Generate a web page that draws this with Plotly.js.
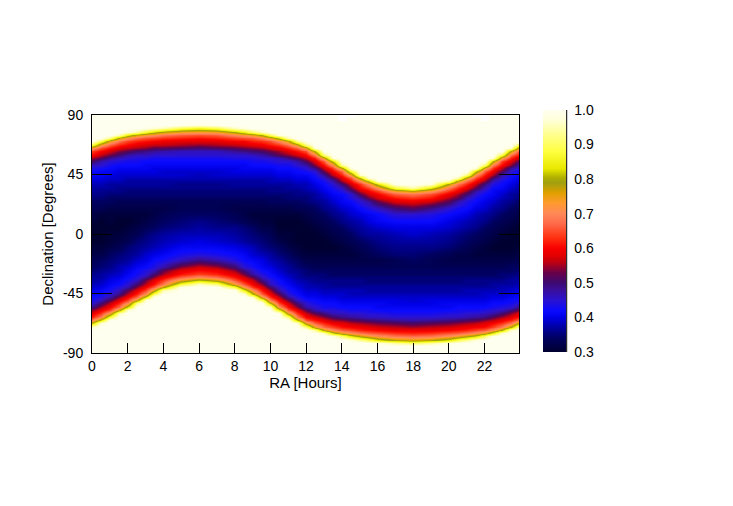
<!DOCTYPE html>
<html>
<head>
<meta charset="utf-8">
<script src="https://cdn.plot.ly/plotly-3.0.1.min.js"></script>
<style>html,body{margin:0;padding:0;background:#fff;}#chart{width:733px;height:506px;}</style>
</head>
<body>
<div id="chart"></div>
<script>
// RA columns (hours): half-hour steps where the band edges are steep
var raHours = [0,0.5,1,1.5,2,2.5,3,3.5,4,5,6,7,8,8.5,9,9.5,10,10.5,11,11.5,12,12.5,13,13.5,14,14.5,15,15.5,16,17,18,19,20,20.5,21,21.5,22,22.5,23,23.5,24];
// Declination rows (degrees): 2.5 deg steps where the bands are, 5 deg steps in the middle
var decDegrees = [-90,-87.5,-85,-82.5,-80,-77.5,-75,-72.5,-70,-67.5,-65,-62.5,-60,-57.5,-55,-52.5,-50,-47.5,-45,-42.5,-40,-37.5,-35,-32.5,-30,-27.5,-25,
  -20,-15,-10,-5,0,5,10,15,20,
  25,27.5,30,32.5,35,37.5,40,42.5,45,47.5,50,52.5,55,57.5,60,62.5,65,67.5,70,72.5,75,77.5,80,82.5,85,87.5,90];

// value x100, one column per RA entry, from Dec -90 up to Dec +90
var zColumns = [
  /* 0 */   [100,100,100,100,100,100,100,100,97,80,68,62,58,54,49,45,43,42,41,40,39,38,37,37,36,35,34, 33,32,31,30,30,30,31,32,33, 34,35,36,37,37,38,39,40,41,42,44,46,51,55,60,64,72,88,100,100,100,100,100,100,100,100,100],
  /* 0.5 */ [100,100,100,100,100,100,100,100,100,98,82,69,63,59,55,50,46,44,42,41,40,39,38,37,37,36,35, 34,32,31,30,30,30,30,31,33, 34,35,36,36,37,38,39,40,41,41,43,45,47,52,56,60,65,73,89,100,100,100,100,100,100,100,100],
  /* 1 */   [100,100,100,100,100,100,100,100,100,100,100,88,73,64,60,56,52,47,45,43,42,41,40,39,38,37,36, 35,34,32,31,31,30,31,31,32, 34,34,35,36,37,37,38,39,40,41,42,43,45,48,53,57,61,66,75,92,100,100,100,100,100,100,100],
  /* 1.5 */ [100,100,100,100,100,100,100,100,100,100,100,100,94,77,67,62,58,54,49,46,44,42,41,40,39,38,38, 36,35,33,32,31,30,30,31,32, 33,34,35,36,36,37,38,39,39,40,41,42,44,46,50,54,58,62,68,78,95,100,100,100,100,100,100],
  /* 2 */   [100,100,100,100,100,100,100,100,100,100,100,100,100,98,83,71,64,60,56,52,47,45,43,42,41,40,39, 37,36,35,33,32,31,30,31,32, 33,34,35,35,36,37,37,38,39,40,41,42,43,45,47,52,56,60,64,71,83,98,100,100,100,100,100],
  /* 2.5 */ [100,100,100,100,100,100,100,100,100,100,100,100,100,100,100,93,76,67,62,58,54,50,46,44,43,42,41, 39,37,36,35,33,32,31,31,32, 33,34,35,35,36,37,37,38,39,40,41,42,43,44,46,50,55,58,62,67,77,94,100,100,100,100,100],
  /* 3 */   [100,100,100,100,100,100,100,100,100,100,100,100,100,100,100,100,98,83,71,64,60,56,53,48,45,44,42, 40,39,37,36,35,33,32,31,32, 33,34,35,35,36,37,37,38,39,40,41,41,42,44,46,49,54,57,61,65,73,87,99,100,100,100,100],
  /* 3.5 */ [100,100,100,100,100,100,100,100,100,100,100,100,100,100,100,100,100,100,90,75,66,61,58,54,50,46,44, 42,40,38,37,36,34,33,32,32, 33,34,35,35,36,37,37,38,39,40,40,41,42,43,45,48,52,56,60,64,71,82,97,100,100,100,100],
  /* 4 */   [100,100,100,100,100,100,100,100,100,100,100,100,100,100,100,100,100,100,100,94,78,68,63,59,55,52,47, 43,41,39,38,37,35,34,33,32, 33,34,35,35,36,37,37,38,39,39,40,41,42,43,45,47,52,56,59,63,68,78,95,100,100,100,100],
  /* 5 */   [100,100,100,100,100,100,100,100,100,100,100,100,100,100,100,100,100,100,100,100,99,87,74,66,61,58,54, 46,43,41,39,38,36,35,34,33, 33,34,35,35,36,36,37,38,39,39,40,41,42,43,45,46,51,55,58,62,66,74,89,99,100,100,100],
  /* 6 */   [100,100,100,100,100,100,100,100,100,100,100,100,100,100,100,100,100,100,100,100,100,96,81,70,64,60,57, 49,44,41,40,38,37,36,34,33, 33,34,35,35,36,36,37,38,38,39,40,41,42,43,45,46,50,54,58,61,65,73,86,98,100,100,100],
  /* 7 */   [100,100,100,100,100,100,100,100,100,100,100,100,100,100,100,100,100,100,100,100,100,91,76,67,62,59,55, 47,43,41,39,38,36,35,34,33, 33,34,35,35,36,36,37,38,39,39,40,41,42,43,45,46,51,55,58,62,66,74,89,99,100,100,100],
  /* 8 */   [100,100,100,100,100,100,100,100,100,100,100,100,100,100,100,100,100,100,100,99,87,73,65,61,58,54,50, 44,42,40,38,37,36,34,33,32, 33,34,35,35,36,37,37,38,39,40,40,41,42,44,45,48,52,56,60,64,70,80,96,100,100,100,100],
  /* 8.5 */ [100,100,100,100,100,100,100,100,100,100,100,100,100,100,100,100,100,100,98,84,72,65,60,57,53,49,45, 42,41,39,37,36,35,33,32,32, 33,34,35,35,36,37,37,38,39,40,41,41,42,44,45,49,53,57,60,65,72,85,98,100,100,100,100],
  /* 9 */   [100,100,100,100,100,100,100,100,100,100,100,100,100,100,100,100,100,96,80,70,63,59,56,52,47,45,43, 41,39,38,36,35,34,32,31,32, 33,34,35,35,36,37,37,38,39,40,41,42,43,44,46,50,54,58,62,66,75,91,100,100,100,100,100],
  /* 9.5 */ [100,100,100,100,100,100,100,100,100,100,100,100,100,100,100,100,90,74,66,61,58,54,49,46,44,42,41, 40,38,36,35,34,32,31,31,32, 33,34,35,35,36,37,37,38,39,40,41,42,43,45,47,51,55,59,63,69,80,96,100,100,100,100,100],
  /* 10 */  [100,100,100,100,100,100,100,100,100,100,100,100,100,100,97,80,69,63,59,55,51,46,45,43,42,41,40, 38,37,35,34,33,32,31,31,32, 34,34,35,36,36,37,38,38,39,40,41,42,44,45,49,53,57,61,65,74,89,100,100,100,100,100,100],
  /* 10.5 */[100,100,100,100,100,100,100,100,100,100,100,100,99,85,71,64,60,56,52,47,45,43,42,41,40,39,38, 37,35,34,32,31,30,30,31,32, 34,34,35,36,36,37,38,39,40,41,42,43,45,46,52,55,59,63,70,82,98,100,100,100,100,100,100],
  /* 11 */  [100,100,100,100,100,100,100,100,100,100,100,92,75,66,61,57,53,48,45,43,42,41,40,39,38,37,37, 35,34,32,31,31,30,30,31,32, 34,35,35,36,37,37,38,39,40,41,42,43,45,49,54,58,62,67,77,95,100,100,100,100,100,100,100],
  /* 11.5 */[100,100,100,100,100,100,100,100,100,98,81,69,63,59,54,50,46,44,42,41,40,39,38,37,37,36,35, 34,32,31,30,30,30,30,31,33, 34,35,36,36,37,38,39,40,41,42,43,45,47,52,57,61,66,75,93,100,100,100,100,100,100,100,100],
  /* 12 */  [100,100,100,100,100,100,100,100,92,75,65,60,56,52,47,45,43,41,40,39,38,38,37,36,35,35,34, 32,31,30,30,30,30,31,32,33, 35,35,36,37,38,38,39,40,41,43,45,47,52,56,60,65,75,92,100,100,100,100,100,100,100,100,100],
  /* 12.5 */[100,100,100,100,100,100,100,93,75,66,61,57,52,47,45,43,42,41,40,39,38,37,36,36,35,34,33, 32,31,30,30,30,31,32,33,34, 36,37,37,38,39,40,41,42,43,45,49,54,58,62,69,81,98,100,100,100,100,100,100,100,100,100,100],
  /* 13 */  [100,100,100,100,100,100,95,77,67,62,58,54,49,45,43,42,41,40,39,38,37,37,36,35,35,34,33, 32,31,30,30,31,32,33,34,36, 37,38,39,40,41,42,43,45,48,53,57,61,66,75,92,100,100,100,100,100,100,100,100,100,100,100,100],
  /* 13.5 */[100,100,100,100,100,98,82,70,64,59,55,51,46,45,43,42,41,40,39,38,37,36,36,35,34,34,33, 32,31,30,31,32,33,34,36,37, 39,40,41,42,43,45,47,51,56,60,64,71,83,98,100,100,100,100,100,100,100,100,100,100,100,100,100],
  /* 14 */  [100,100,100,100,100,91,75,66,61,58,54,49,46,44,42,41,40,39,39,38,37,36,36,35,34,34,33, 32,31,31,32,33,34,36,37,39, 41,41,42,44,46,50,55,58,62,67,78,94,100,100,100,100,100,100,100,100,100,100,100,100,100],
  /* 14.5 */[100,100,100,100,98,83,71,64,60,56,52,48,45,43,42,41,40,39,38,38,37,36,36,35,34,34,33, 32,31,32,33,34,36,37,39,40, 42,44,45,49,53,57,61,65,73,88,99,100,100,100,100,100,100,100,100,100,100,100,100,100,100,100],
  /* 15 */  [100,100,100,100,93,78,68,62,59,55,51,47,45,43,42,41,40,39,38,38,37,36,36,35,34,34,33, 32,32,33,34,36,37,38,40,42, 45,47,52,56,60,63,70,80,96,100,100,100,100,100,100,100,100,100,100,100,100,100,100,100,100,100,100],
  /* 15.5 */[100,100,100,99,89,74,66,61,58,54,50,46,44,43,42,41,40,39,38,37,37,36,35,35,34,34,33, 32,33,34,35,37,38,40,41,44, 48,53,57,60,64,71,82,98,100,100,100,100,100,100,100,100,100,100,100,100,100,100,100,100,100,100,100],
  /* 16 */  [100,100,100,98,83,71,65,60,57,53,49,46,44,42,41,41,40,39,38,37,37,36,35,35,34,34,33, 32,34,35,36,37,39,41,42,46, 53,57,60,64,71,83,98,100,100,100,100,100,100,100,100,100,100,100,100,100,100,100,100,100,100,100,100],
  /* 17 */  [100,100,100,94,78,68,63,59,56,52,48,45,43,42,41,40,40,39,38,37,37,36,35,35,34,34,33, 33,35,36,37,38,40,42,45,50, 58,61,66,74,87,99,100,100,100,100,100,100,100,100,100,100,100,100,100,100,100,100,100,100,100,100,100],
  /* 18 */  [100,100,100,91,76,67,62,59,55,51,47,45,43,42,41,40,39,39,38,37,37,36,35,35,34,34,33, 34,35,36,37,39,40,42,45,52, 59,63,68,78,94,100,100,100,100,100,100,100,100,100,100,100,100,100,100,100,100,100,100,100,100,100,100],
  /* 19 */  [100,100,100,94,78,68,63,59,56,52,48,45,43,42,41,40,40,39,38,37,37,36,35,35,34,34,33, 33,34,36,37,38,40,42,44,49, 57,61,65,72,83,98,100,100,100,100,100,100,100,100,100,100,100,100,100,100,100,100,100,100,100,100,100],
  /* 20 */  [100,100,100,98,83,71,65,60,57,53,49,46,44,42,41,41,40,39,38,37,37,36,35,35,34,34,33, 32,33,35,36,37,39,40,42,45, 52,55,59,63,68,78,94,100,100,100,100,100,100,100,100,100,100,100,100,100,100,100,100,100,100,100,100],
  /* 20.5 */[100,100,100,99,89,74,66,61,58,54,50,46,44,43,42,41,40,39,38,37,37,36,35,35,34,34,33, 32,32,34,35,36,38,39,41,43, 47,52,55,59,62,68,77,94,100,100,100,100,100,100,100,100,100,100,100,100,100,100,100,100,100,100,100],
  /* 21 */  [100,100,100,100,93,78,68,62,59,55,51,47,45,43,42,41,40,39,38,38,37,36,36,35,34,34,33, 32,32,33,34,35,37,38,40,42, 44,46,50,54,58,62,67,75,91,100,100,100,100,100,100,100,100,100,100,100,100,100,100,100,100,100,100],
  /* 21.5 */[100,100,100,100,98,82,71,64,60,56,52,48,45,43,42,41,40,39,38,38,37,36,36,35,34,34,33, 32,31,32,33,34,36,37,38,40, 42,43,45,47,52,56,60,64,70,82,98,100,100,100,100,100,100,100,100,100,100,100,100,100,100,100],
  /* 22 */  [100,100,100,100,100,91,75,66,61,58,54,49,46,44,42,41,40,39,39,38,37,36,36,35,34,34,33, 32,31,31,32,33,34,36,37,39, 40,41,42,44,46,49,54,58,61,66,75,91,100,100,100,100,100,100,100,100,100,100,100,100,100],
  /* 22.5 */[100,100,100,100,100,99,84,71,64,60,56,52,47,45,43,42,41,40,39,38,37,37,36,35,34,34,33, 32,31,30,31,32,33,34,36,37, 39,40,41,41,42,44,46,50,55,59,63,69,80,97,100,100,100,100,100,100,100,100,100,100,100,100,100],
  /* 23 */  [100,100,100,100,100,100,97,80,69,63,59,55,50,46,44,42,41,40,39,38,38,37,36,35,35,34,33, 32,31,30,30,31,32,33,34,36, 37,38,39,40,41,42,43,45,47,52,56,60,64,73,88,100,100,100,100,100,100,100,100,100,100,100,100],
  /* 23.5 */[100,100,100,100,100,100,100,97,79,68,62,58,54,49,45,43,42,41,40,39,38,37,37,36,35,34,34, 32,31,30,30,30,31,32,33,34, 36,37,37,38,39,40,41,42,43,45,48,54,58,62,67,78,96,100,100,100,100,100,100,100,100,100,100],
  /* 24 */  [100,100,100,100,100,100,100,100,97,80,68,62,58,54,49,45,43,42,41,40,39,38,37,37,36,35,34, 33,32,31,30,30,30,31,32,33, 34,35,36,37,37,38,39,40,41,42,44,46,51,55,60,64,72,88,100,100,100,100,100,100,100,100,100]
];

var xTickVals = [0,2,4,6,8,10,12,14,16,18,20,22];
var yTickVals = [-90,-45,0,45,90];
var yTickText = ['-90','-45','0','45','90'];
var cbTickVals = [0.3,0.4,0.5,0.6,0.7,0.8,0.9,1.0];

var zData = zColumns.map(function(col){ return col.map(function(v){ return v/100; }); });

var colorscale = [
  [0.0,'#000030'],[0.0571,'#000060'],[0.1,'#00009e'],[0.1429,'#0000e6'],[0.1714,'#0a0aff'],
  [0.2143,'#2a12d0'],[0.2571,'#3a0e98'],[0.2857,'#3c0a70'],[0.3286,'#6a0048'],[0.3714,'#c00010'],
  [0.4,'#e40000'],[0.4286,'#f80000'],[0.4714,'#ff3010'],[0.5286,'#ff6a48'],[0.5714,'#ff8858'],
  [0.6143,'#ff9a30'],[0.6571,'#e0a000'],[0.7,'#a0a010'],[0.7214,'#b0b000'],[0.7571,'#e8e800'],
  [0.8286,'#ffff40'],[0.9,'#ffff90'],[0.957,'#ffffd8'],[1.0,'#fffff0']
];

var trace = {
  type: 'heatmap',
  x: raHours,
  y: decDegrees,
  z: zData,
  transpose: true,
  zsmooth: 'best',
  zmin: 0.3, zmax: 1.0,
  colorscale: colorscale,
  hoverinfo: 'skip',
  colorbar: {
    x: 1.056, xanchor: 'left', xpad: 0,
    y: 1.021, yanchor: 'top', ypad: 0,
    lenmode: 'pixels', len: 242,
    thickness: 23,
    outlinewidth: 0,
    tickvals: cbTickVals,
    tickformat: '.1f',
    ticks: 'outside', ticklen: 6, tickcolor: 'rgba(0,0,0,0)',
    tickfont: {size: 14, color: '#000'}
  }
};

var layout = {
  width: 733, height: 506,
  margin: {l: 92, r: 214, t: 115, b: 153},
  paper_bgcolor: '#ffffff', plot_bgcolor: '#ffffff',
  font: {family: 'Liberation Sans, Arial, Helvetica, sans-serif', size: 14, color: '#000'},
  showlegend: false,
  xaxis: {
    range: [0, 23.93], tickvals: xTickVals, ticks: 'inside', ticklen: 10, tickcolor: '#000',
    showline: true, linecolor: '#000', linewidth: 1, mirror: true,
    showgrid: false, zeroline: false,
    title: {text: 'RA [Hours]', font: {size: 15}, standoff: 3}
  },
  yaxis: {
    range: [-90, 90], tickvals: yTickVals, ticktext: yTickText, ticks: 'inside', ticklen: 20, tickcolor: '#000',
    ticklabelstandoff: 5,
    showline: true, linecolor: '#000', linewidth: 1, mirror: 'ticks',
    showgrid: false, zeroline: false,
    title: {text: 'Declination [Degrees]', font: {size: 15}, standoff: 5}
  },
  shapes: [{
    type: 'line', xref: 'paper', yref: 'paper',
    x0: 1.1117, x1: 1.1117, y0: 1.021, y1: 0.0042,
    line: {color: '#000', width: 1}
  }]
};

Plotly.newPlot('chart', [trace], layout, {staticPlot: true, displayModeBar: false});
</script>
</body>
</html>
